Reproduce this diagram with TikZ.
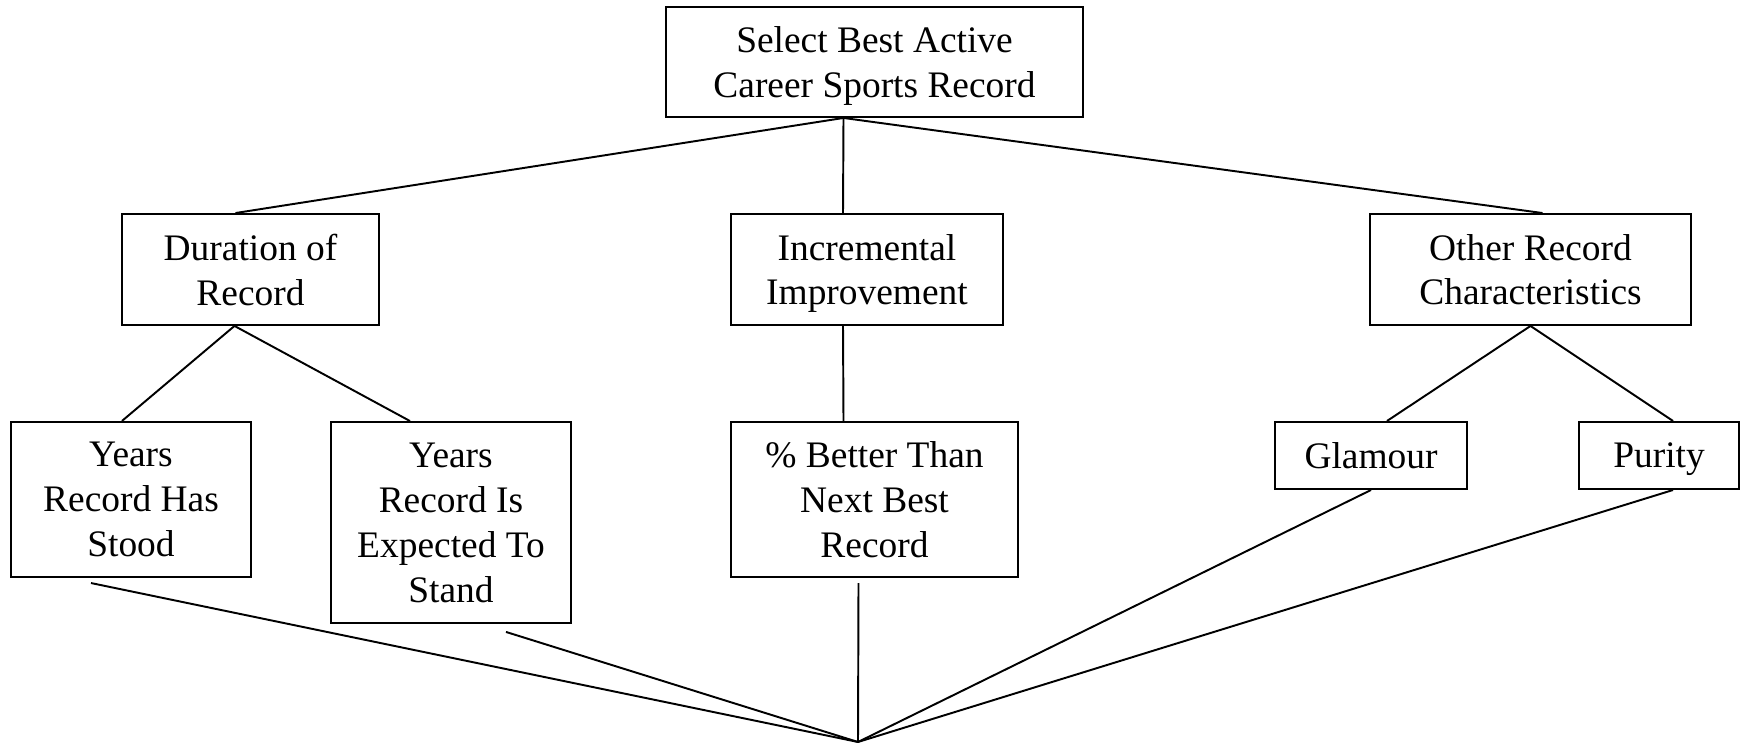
\documentclass[tikz,border=0pt]{standalone}
\usepackage{fontspec}
\setmainfont{Liberation Serif}
\usetikzlibrary{calc}

\tikzset{box/.style={shape=rectangle,draw=black,line width=0.6pt,align=center,inner sep=0pt,text depth=-1.4pt,font=\fontsize{11.6}{13.9}\selectfont}}

\begin{document}
\begin{tikzpicture}[x=0.31pt,y=-0.31pt,line width=0.6pt]

	\useasboundingbox (0,0) rectangle (1741,746);

	\node[box,minimum width=129.3pt,minimum height=34.1pt] (top) at (874.5,62) {Select Best Active\\Career Sports Record};
	\node[box,minimum width=79.7pt,minimum height=34.4pt] (dur) at (250.5,269.5) {Duration of\\Record};
	\node[box,minimum width=84.3pt,minimum height=34.4pt] (inc) at (867,269.5) {Incremental\\Improvement};
	\node[box,minimum width=99.5pt,minimum height=34.4pt] (oth) at (1530.5,269.5) {Other Record\\Characteristics};
	\node[box,minimum width=74.4pt,minimum height=48.1pt] (stood) at (131,499.5) {Years\\Record Has\\Stood};
	\node[box,minimum width=74.4pt,minimum height=62.3pt] (expect) at (451,522.5) {Years\\Record Is\\Expected To\\Stand};
	\node[box,minimum width=89pt,minimum height=48.1pt] (better) at (874.5,499.5) {\% Better Than\\Next Best\\Record};
	\node[box,minimum width=59.5pt,minimum height=20.8pt] (glam) at (1371,455.5) {Glamour};
	\node[box,minimum width=49.6pt,minimum height=20.8pt] (pur) at (1659,455.5) {Purity};
	\coordinate (hub) at (858,742);

	\draw ($(top.south)+(-31,0)$) -- ($(dur.north)+(-15,0)$);
	\draw ($(top.south)+(-31,0)$) -- ($(inc.north)+(-24,0)$);
	\draw ($(top.south)+(-31,0)$) -- ($(oth.north)+(12,0)$);
	\draw ($(dur.south)+(-16,0)$) -- ($(stood.north)+(-9,0)$);
	\draw ($(dur.south)+(-16,0)$) -- ($(expect.north)+(-41,0)$);
	\draw ($(inc.south)+(-24,0)$) -- ($(better.north)+(-31,0)$);
	\draw (oth.south) -- ($(glam.north)+(16,0)$);
	\draw (oth.south) -- ($(pur.north)+(14,0)$);
	\draw ($(stood.south)+(-40,5)$) -- (hub);
	\draw ($(expect.south)+(55,8)$) -- (hub);
	\draw ($(better.south)+(-16,5)$) -- (hub);
	\draw (glam.south) -- (hub);
	\draw ($(pur.south)+(14,0)$) -- (hub);

\end{tikzpicture}
\end{document}
